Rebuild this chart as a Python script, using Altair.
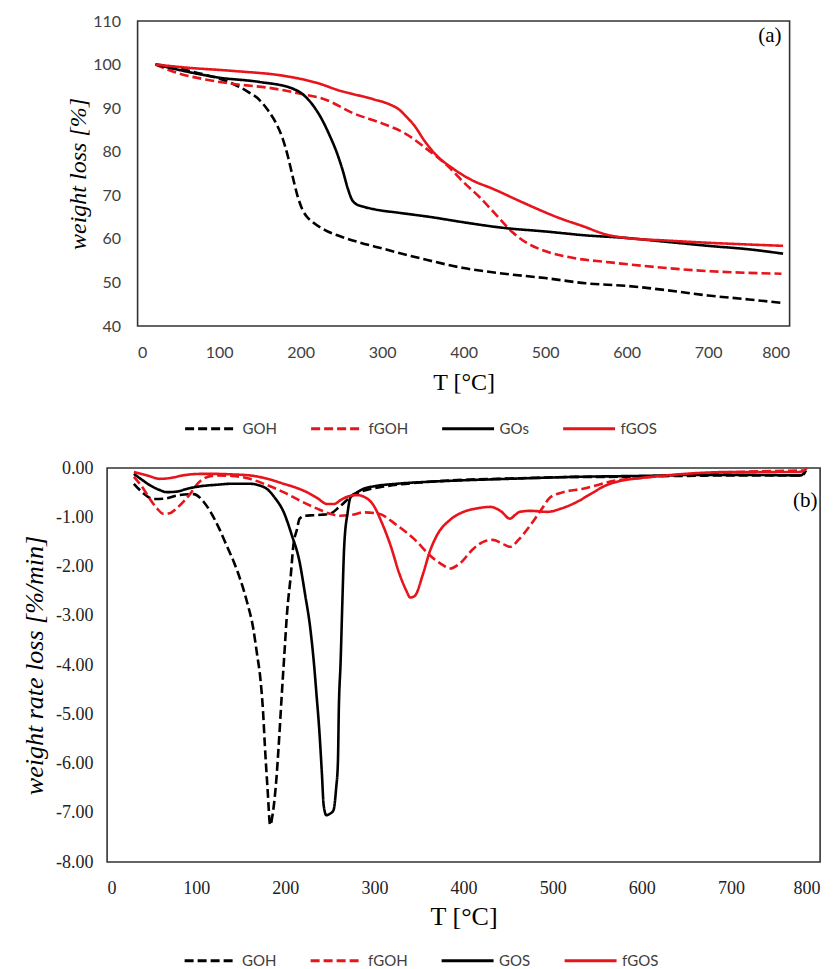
import altair as alt
import pandas as pd

# ---------------- (a) weight loss ----------------
top_names = ["GOH", "fGOH", "GOs", "fGOS"]

goh_T = [22, 40, 60, 80, 100, 120, 135, 150, 160, 170, 178, 185, 190, 196, 202, 208, 215, 230, 250, 270, 300, 350, 400, 450, 500, 550, 600, 650, 700, 750, 790]
goh_W = [100, 99.6, 98.7, 97.8, 96.8, 95.3, 93.8, 91.8, 89.5, 86.5, 83, 78.5, 74.5, 70, 66.8, 65, 63.8, 62, 60.5, 59.3, 57.8, 55.4, 53.3, 52, 51, 49.8, 49.2, 48.2, 47, 46.1, 45.3]

gos_T = [22, 50, 100, 150, 190, 205, 215, 225, 235, 245, 252, 258, 263, 268, 275, 290, 320, 360, 400, 450, 500, 550, 600, 650, 700, 750, 792]
gos_W = [100, 98.8, 97, 96, 94.5, 92.8, 90.7, 87.8, 84, 79.5, 75.5, 71.5, 69, 68, 67.5, 66.8, 66, 65, 63.8, 62.5, 61.7, 60.8, 60.2, 59.3, 58.4, 57.6, 56.6]

fgoh_T = [22, 50, 80, 120, 160, 200, 230, 265, 300, 330, 355, 380, 400, 420, 440, 460, 480, 500, 535, 580, 620, 700, 790]
fgoh_W = [100, 98, 96.7, 95.5, 94.7, 93.3, 92, 88.8, 86.5, 84, 80.6, 76.8, 73, 69.5, 65.5, 61.5, 58.8, 57.2, 55.6, 54.6, 53.8, 52.6, 52]

fgos_T = [22, 60, 120, 180, 220, 250, 265, 290, 310, 320, 330, 340, 352, 365, 388, 410, 437, 465, 490, 520, 545, 575, 600, 650, 700, 750, 792]
fgos_W = [100, 99.3, 98.5, 97.4, 95.8, 93.9, 93.2, 92, 90.8, 89.8, 88, 85.9, 82.5, 79.5, 76, 73.5, 71.4, 69, 66.9, 64.6, 63, 61, 60.2, 59.6, 59.1, 58.7, 58.4]

# ---------------- (b) weight rate loss ----------------
bot_names = ["GOH", "fGOH", "GOS", "fGOS"]

dgoh_T = [30, 40, 52, 65, 78, 97, 108, 116, 125, 134, 142, 149, 157, 164, 168, 172, 175, 177, 180, 183, 186, 190, 193, 196, 199, 202, 206, 209, 213, 216, 222, 231, 240, 250, 260, 276, 290, 306, 330, 362, 400, 437, 480, 527, 560, 600, 650, 700, 750, 780, 784]
dgoh_V = [-0.32, -0.5, -0.63, -0.62, -0.56, -0.53, -0.68, -0.89, -1.2, -1.57, -1.9, -2.24, -2.72, -3.26, -3.75, -4.28, -4.95, -5.63, -6.5, -7.25, -7.0, -6.3, -5.5, -4.6, -3.75, -2.92, -2.2, -1.57, -1.25, -1.03, -0.97, -0.96, -0.95, -0.93, -0.8, -0.55, -0.45, -0.39, -0.33, -0.28, -0.24, -0.22, -0.2, -0.18, -0.18, -0.17, -0.16, -0.15, -0.15, -0.15, -0.05]

dgos_T = [30, 40, 48, 58, 67, 78, 90, 105, 123, 140, 160, 172, 179, 188, 198, 207, 216, 222, 228, 232, 235, 238, 241, 243, 246, 250, 254, 257, 259, 260, 262, 264, 266, 270, 273, 280, 288, 300, 325, 360, 400, 450, 527, 600, 665, 720, 778, 784]
dgos_V = [-0.12, -0.25, -0.35, -0.44, -0.49, -0.48, -0.42, -0.37, -0.34, -0.32, -0.32, -0.36, -0.42, -0.6, -0.89, -1.35, -1.91, -2.55, -3.26, -3.95, -4.61, -5.3, -6.2, -6.85, -7.05, -7.02, -6.95, -6.5, -5.96, -4.9, -3.94, -2.7, -1.6, -0.89, -0.6, -0.5, -0.42, -0.37, -0.32, -0.28, -0.25, -0.22, -0.18, -0.16, -0.14, -0.14, -0.15, -0.05]

dfgoh_T = [30, 40, 48, 56, 63, 70, 78, 86, 93, 100, 110, 123, 140, 160, 180, 198, 215, 235, 250, 262, 275, 288, 305, 325, 345, 362, 375, 385, 395, 411, 422, 433, 445, 452, 462, 475, 487, 497, 510, 534, 572, 600, 632, 680, 707, 750, 781]
dfgoh_V = [-0.18, -0.4, -0.63, -0.82, -0.93, -0.92, -0.82, -0.68, -0.53, -0.35, -0.2, -0.15, -0.16, -0.22, -0.35, -0.49, -0.65, -0.82, -0.93, -0.97, -0.95, -0.9, -0.93, -1.16, -1.45, -1.77, -1.95, -2.04, -1.95, -1.64, -1.5, -1.46, -1.55, -1.6, -1.45, -1.16, -0.85, -0.6, -0.5, -0.42, -0.25, -0.2, -0.15, -0.1, -0.08, -0.06, -0.05]

dfgos_T = [30, 45, 59, 72, 85, 105, 123, 140, 160, 180, 198, 212, 224, 235, 247, 255, 262, 270, 280, 290, 299, 308, 318, 328, 336, 340, 345, 355, 362, 370, 385, 400, 415, 430, 442, 452, 458, 463, 475, 494, 510, 527, 545, 560, 572, 600, 628, 665, 703, 740, 775, 781, 785]
dfgos_V = [-0.08, -0.15, -0.22, -0.2, -0.15, -0.12, -0.12, -0.13, -0.15, -0.22, -0.32, -0.4, -0.49, -0.6, -0.73, -0.73, -0.65, -0.58, -0.55, -0.6, -0.76, -1.1, -1.57, -2.15, -2.5, -2.63, -2.6, -2.12, -1.7, -1.37, -1.05, -0.89, -0.82, -0.79, -0.88, -1.03, -0.95, -0.89, -0.87, -0.89, -0.82, -0.69, -0.5, -0.35, -0.28, -0.2, -0.15, -0.1, -0.08, -0.08, -0.08, -0.06, 0.0]

x_ticks = [0, 100, 200, 300, 400, 500, 600, 700, 800]
top_y_ticks = [40, 50, 60, 70, 80, 90, 100, 110]
bot_y_ticks = [0, -1, -2, -3, -4, -5, -6, -7, -8]

series_colors = ["#000000", "#e8141c", "#000000", "#e8141c"]
series_dashes = [[9, 4], [9, 4], [1, 0], [1, 0]]

panel_tag_a = {"T": [790], "v": [106.5], "tag": ["(a)"]}
panel_tag_b = {"T": [797], "v": [-0.68], "tag": ["(b)"]}


def long_frame(names, pairs):
    rows = []
    for name, (ts, vs) in zip(names, pairs):
        for i, (t, v) in enumerate(zip(ts, vs)):
            rows.append({"T": t, "v": v, "series": name, "i": i})
    return pd.DataFrame(rows)


top_df = long_frame(top_names, [(goh_T, goh_W), (fgoh_T, fgoh_W), (gos_T, gos_W), (fgos_T, fgos_W)])
bot_df = long_frame(bot_names, [(dgoh_T, dgoh_V), (dfgoh_T, dfgoh_V), (dgos_T, dgos_V), (dfgos_T, dfgos_V)])

SERIF = "Liberation Serif"
SANS = "Lato"


def legend_obj(lx, ly):
    return alt.Legend(
        title=None, orient="none", direction="horizontal", legendX=lx, legendY=ly,
        symbolType="stroke", symbolSize=2700, symbolStrokeWidth=3,
        labelFont=SANS, labelFontSize=15, labelColor="#404040", labelOffset=4,
        columnPadding=27,
    )


# ---------- panel (a) ----------
top_leg = legend_obj(46, 380)
top_lines = alt.Chart(top_df).mark_line(strokeWidth=2.6, interpolate="monotone").encode(
    x=alt.X("T:Q", scale=alt.Scale(domain=[0, 800], nice=False),
            axis=alt.Axis(values=x_ticks, title="T [°C]", titleFont=SERIF, titleFontSize=24,
                          titleFontWeight="normal", titleColor="#000", titlePadding=10,
                          labelFont=SANS, labelFontSize=16, labelColor="#404040",
                          ticks=False, domain=False, grid=False, labelPadding=18)),
    y=alt.Y("v:Q", scale=alt.Scale(domain=[40, 110], nice=False),
            axis=alt.Axis(values=top_y_ticks, title="weight loss [%]", titleFont=SERIF,
                          titleFontSize=24, titleFontStyle="italic", titleFontWeight="normal",
                          titleColor="#000", titlePadding=2,
                          labelFont=SANS, labelFontSize=16, labelColor="#404040",
                          ticks=False, domain=False, grid=False, labelPadding=17)),
    color=alt.Color("series:N", scale=alt.Scale(domain=top_names, range=series_colors), legend=top_leg),
    strokeDash=alt.StrokeDash("series:N", scale=alt.Scale(domain=top_names, range=series_dashes), legend=top_leg),
    order="i:Q",
)
top_tag = alt.Chart(pd.DataFrame(panel_tag_a)).mark_text(
    font=SERIF, fontSize=21, align="right", baseline="middle", color="#000"
).encode(x="T:Q", y="v:Q", text="tag:N")

top = alt.layer(top_lines, top_tag).properties(width=652, height=305)

# ---------- panel (b) ----------
bot_leg = legend_obj(76, 465)
bot_lines = alt.Chart(bot_df).mark_line(strokeWidth=2.6, interpolate="monotone").encode(
    x=alt.X("T:Q", scale=alt.Scale(domain=[0, 800], nice=False),
            axis=alt.Axis(values=x_ticks, title="T [°C]", titleFont=SERIF, titleFontSize=26,
                          titleFontWeight="normal", titleColor="#000", titlePadding=6,
                          labelFont=SERIF, labelFontSize=18, labelColor="#222",
                          ticks=False, domain=False, grid=False, labelPadding=17)),
    y=alt.Y("v:Q", scale=alt.Scale(domain=[-8, 0], nice=False),
            axis=alt.Axis(values=bot_y_ticks, title="weight rate loss [%/min]", titleFont=SERIF,
                          titleFontSize=26, titleFontStyle="italic", titleFontWeight="normal",
                          titleColor="#000", titlePadding=8,
                          labelExpr="(datum.value < 0 ? '-' : '') + format(abs(datum.value), '.2f')",
                          labelFont=SERIF, labelFontSize=18, labelColor="#222",
                          ticks=False, domain=False, grid=False, labelPadding=14)),
    color=alt.Color("series:N", scale=alt.Scale(domain=bot_names, range=series_colors), legend=bot_leg),
    strokeDash=alt.StrokeDash("series:N", scale=alt.Scale(domain=bot_names, range=series_dashes), legend=bot_leg),
    order="i:Q",
)
bot_tag = alt.Chart(pd.DataFrame(panel_tag_b)).mark_text(
    font=SERIF, fontSize=21, align="right", baseline="middle", color="#000"
).encode(x="T:Q", y="v:Q", text="tag:N")

bottom = alt.layer(bot_lines, bot_tag).properties(width=713, height=394)

chart = alt.vconcat(top, bottom, spacing=20, center=True).resolve_scale(
    color="independent", strokeDash="independent", x="independent", y="independent"
).resolve_legend(color="independent", strokeDash="independent").properties(
    padding={"left": 20, "top": 12, "right": 5, "bottom": 0}
).configure_view(stroke="#333333", strokeWidth=1.6)

chart.save("out.html", embed_options={"renderer": "svg", "actions": False})
